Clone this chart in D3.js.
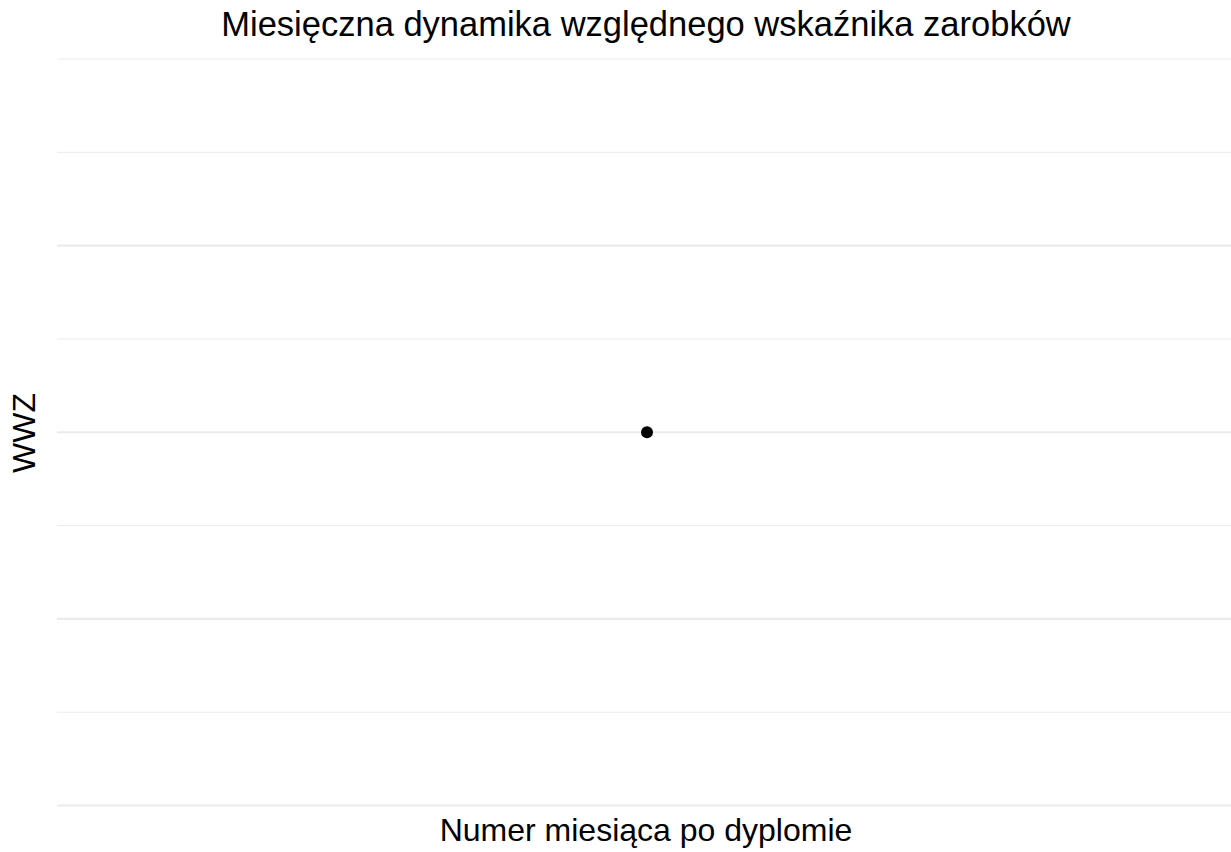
<!DOCTYPE html>
<html>
<head>
<meta charset="utf-8">
<script src="https://cdn.jsdelivr.net/npm/d3@7"></script>
<style>
html,body{margin:0;padding:0;background:#fff;}
text{font-family:"Liberation Sans",Arial,Helvetica,sans-serif;fill:#000;}
</style>
</head>
<body>
<svg id="chart" width="1231" height="852"></svg>
<script>
// Data
const months = [1];
const wwzValues = [1];
const title = "Miesięczna dynamika względnego wskaźnika zarobków";
const xLabel = "Numer miesiąca po dyplomie";
const yLabel = "WWZ";
const yMajorTicks = [0.5, 0.75, 1, 1.25, 1.5];
const yMinorTicks = [0.625, 0.875, 1.125, 1.375];

const svg = d3.select("#chart");
const W = 1231, H = 852;
const panel = {left: 57, right: 1237, top: 59, bottom: 805.5};

const x = d3.scaleLinear().domain([months[0] - 0.5, months[0] + 0.5]).range([panel.left, panel.right]);
const y = d3.scaleLinear().domain([wwzValues[0] - 0.5, wwzValues[0] + 0.5]).range([panel.bottom, panel.top]);

// minor grid
svg.append("g").selectAll("line").data(yMinorTicks).join("line")
  .attr("x1", panel.left).attr("x2", W)
  .attr("y1", d => y(d)).attr("y2", d => y(d))
  .attr("stroke", "#ebebeb").attr("stroke-width", 1);
// major grid
svg.append("g").selectAll("line").data(yMajorTicks).join("line")
  .attr("x1", panel.left).attr("x2", W)
  .attr("y1", d => y(d)).attr("y2", d => y(d))
  .attr("stroke", "#ebebeb").attr("stroke-width", d => d === 1.5 ? 1.2 : 2.2);

// point
svg.append("g").selectAll("circle").data(months.map((m, i) => ({m, v: wwzValues[i]}))).join("circle")
  .attr("cx", d => x(d.m)).attr("cy", d => y(d.v)).attr("r", 6).attr("fill", "#000");

// title
svg.append("text").attr("x", 646).attr("y", 36).attr("text-anchor", "middle")
  .style("font-size", "34.5px").text(title);
// x label
svg.append("text").attr("x", 646).attr("y", 841).attr("text-anchor", "middle")
  .style("font-size", "32px").text(xLabel);
// y label
svg.append("text").attr("transform", "translate(35,433) rotate(-90)").attr("text-anchor", "middle")
  .style("font-size", "32px").text(yLabel);
</script>
</body>
</html>
